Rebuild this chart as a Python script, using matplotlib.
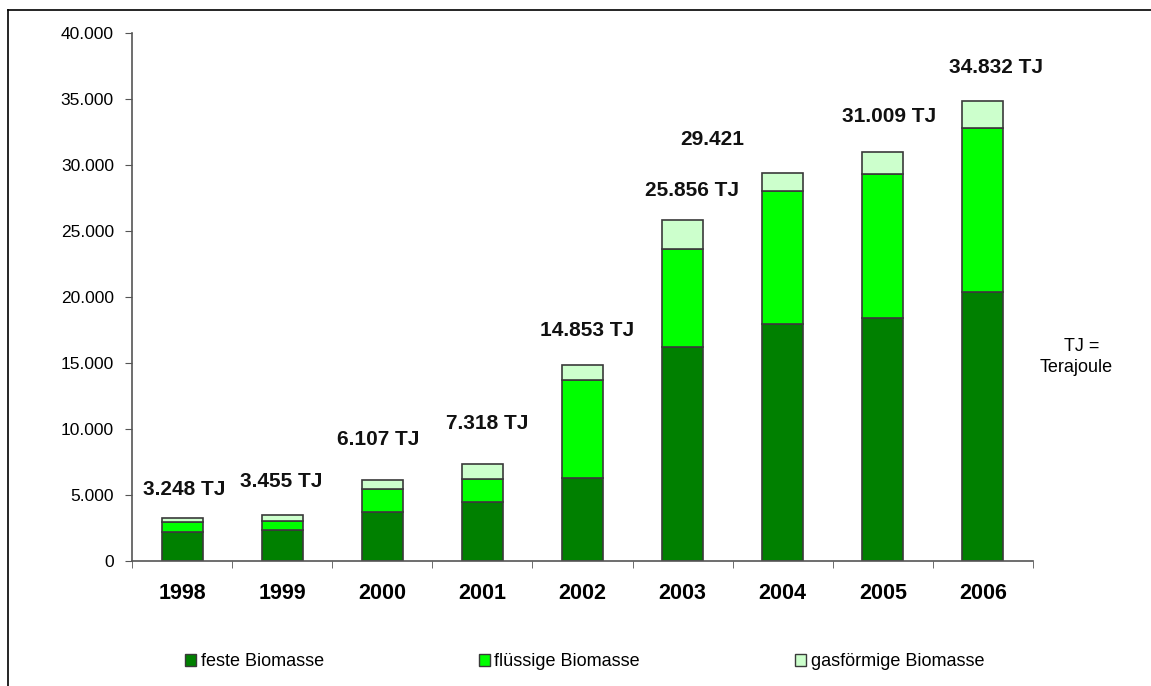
import matplotlib.pyplot as plt
from matplotlib.patches import Patch
from matplotlib.lines import Line2D

plt.rcParams['font.family'] = ['Liberation Sans', 'DejaVu Sans']

# Primärenergie aus Biomasse in TJ
years = ['1998', '1999', '2000', '2001', '2002', '2003', '2004', '2005', '2006']
feste = [2170, 2350, 3690, 4470, 6290, 16210, 17930, 18390, 20360]
fluessig = [780, 700, 1740, 1760, 7420, 7430, 10120, 10910, 12440]
totals = [3248, 3455, 6107, 7318, 14853, 25856, 29421, 31009, 34832]
gasfoermig = [t - f - l for t, f, l in zip(totals, feste, fluessig)]
total_labels = ['3.248 TJ', '3.455 TJ', '6.107 TJ', '7.318 TJ', '14.853 TJ',
                '25.856 TJ', '29.421', '31.009 TJ', '34.832 TJ']

# where each total label sits (category offset, height in TJ)
label_dx = [0.02, -0.01, -0.04, 0.05, 0.05, 0.09, -0.7, 0.06, 0.13]
label_y = [5450, 6060, 9240, 10450, 17500, 28100, 31900, 33650, 37350]

fig = plt.figure(figsize=(11.51, 6.86), dpi=100)
ax = fig.add_axes([0.1147, 0.1822, 0.7828, 0.7697])

x = range(len(years))
w = 0.41
edge = '#3a3a3a'
ax.bar(x, feste, w, color='#008000', edgecolor=edge, linewidth=1.2, label='feste Biomasse')
ax.bar(x, fluessig, w, bottom=feste, color='#00ff00', edgecolor=edge, linewidth=1.2,
       label='flüssige Biomasse')
bottoms = [f + l for f, l in zip(feste, fluessig)]
ax.bar(x, gasfoermig, w, bottom=bottoms, color='#ccffcc', edgecolor=edge, linewidth=1.2,
       label='gasförmige Biomasse')

for i, txt in enumerate(total_labels):
    ax.text(i + label_dx[i], label_y[i], txt, ha='center', va='center',
            fontsize=15, fontweight='bold', color='#111111')

ax.set_xlim(-0.5, len(years) - 0.5)
ax.set_ylim(0, 40000)
ax.set_yticks(range(0, 40001, 5000))
ax.set_yticklabels(['0'] + [f'{v // 1000}.000' for v in range(5000, 40001, 5000)], fontsize=12.5)
ax.set_xticks(list(x))
ax.set_xticklabels(years, fontsize=15.5, fontweight='bold')
ax.tick_params(axis='x', length=0, pad=16)
ax.set_xticks([i - 0.5 for i in range(len(years) + 1)], minor=True)
ax.tick_params(axis='x', which='minor', length=5, color='#555555', direction='out')
ax.tick_params(axis='y', length=5, color='#555555', pad=8)

for side in ['top', 'right']:
    ax.spines[side].set_visible(False)
for side in ['left', 'bottom']:
    ax.spines[side].set_color('#555555')
    ax.spines[side].set_linewidth(1.2)

# outer frame, open to the right and bottom
fig.add_artist(Line2D([0.007, 1.0], [0.985, 0.985], color='black', linewidth=1.2,
                      transform=fig.transFigure))
fig.add_artist(Line2D([0.007, 0.007], [0.0, 0.985], color='black', linewidth=1.2,
                      transform=fig.transFigure))

fig.text(0.9400, 0.4950, 'TJ =', ha='center', va='center', fontsize=13)
fig.text(0.9350, 0.4650, 'Terajoule', ha='center', va='center', fontsize=13)

handles = [Patch(facecolor='#008000', edgecolor=edge),
           Patch(facecolor='#00ff00', edgecolor=edge),
           Patch(facecolor='#ccffcc', edgecolor=edge)]
fig.legend(handles, ['feste Biomasse', 'flüssige Biomasse', 'gasförmige Biomasse'],
           loc='center', bbox_to_anchor=(0.508, 0.035), ncol=3, frameon=False,
           fontsize=13, handlelength=0.6, handleheight=0.6, handletextpad=0.25,
           columnspacing=8.6)

fig.savefig('out.png', dpi=100, facecolor='white')
